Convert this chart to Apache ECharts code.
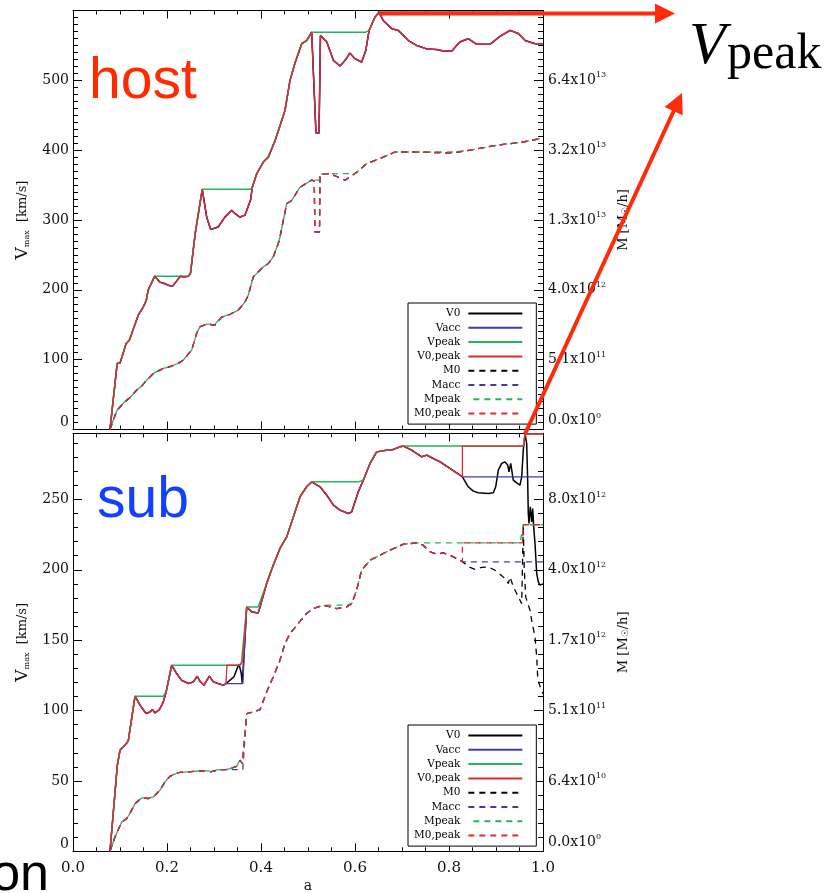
<!DOCTYPE html>
<html>
<head>
<meta charset="utf-8">
<title>Vmax and mass histories: host and subhalo</title>
<script src="https://cdn.jsdelivr.net/npm/echarts@6/dist/echarts.min.js"></script>
<style>
  html, body { margin: 0; padding: 0; background: #fff; }
  #chart { width: 828px; height: 893px; }
</style>
</head>
<body>
<div id="chart"></div>
<script>
// ---------------------------------------------------------------------------
// Legend entries and right-hand mass tick labels (mantissa ^ exponent)
// ---------------------------------------------------------------------------
const seriesNames = ['V0', 'Vacc', 'Vpeak', 'V0,peak', 'M0', 'Macc', 'Mpeak', 'M0,peak'];
const hostMassLabels = ['0.0x10^0', '5.1x10^11', '4.0x10^12', '1.3x10^13', '3.2x10^13', '6.4x10^13'];
const subMassLabels  = ['0.0x10^0', '6.4x10^10', '5.1x10^11', '1.7x10^12', '4.0x10^12', '8.0x10^12'];

// ---------------------------------------------------------------------------
// Host halo: Vmax [km/s] and mass [10^12 Msun/h] against scale factor a
// ---------------------------------------------------------------------------
const hostV0 = [
  [0.0787, 0], [0.094, 94.7], [0.1, 95], [0.113, 123], [0.12, 128], [0.139, 164], [0.15, 176],
  [0.156, 185], [0.16, 200], [0.174, 219.6], [0.185, 211], [0.1945, 209], [0.2078, 205.3],
  [0.213, 206], [0.228, 219.3], [0.236, 218.6], [0.2455, 219.4], [0.25, 224], [0.26, 280.7],
  [0.269, 318.7], [0.275, 344], [0.2845, 304], [0.293, 286.4], [0.309, 290], [0.323, 304],
  [0.3376, 314], [0.345, 309], [0.355, 304], [0.366, 307], [0.378, 329], [0.3815, 347],
  [0.391, 366.5], [0.405, 383], [0.4156, 390], [0.43, 414], [0.4404, 435], [0.451, 457],
  [0.4617, 500], [0.472, 524], [0.4866, 552.5], [0.497, 557], [0.5078, 569], [0.5085, 568],
  [0.517, 424.6], [0.5235, 424.6], [0.5265, 564], [0.54, 555], [0.554, 528.6], [0.568, 520.5],
  [0.579, 528.6], [0.589, 539], [0.6, 531], [0.614, 526], [0.623, 543], [0.63, 571.5],
  [0.6426, 590.6], [0.651, 597.7], [0.66, 585.8], [0.678, 574], [0.692, 571.5], [0.7135, 557],
  [0.731, 550], [0.7525, 545], [0.774, 544], [0.788, 542], [0.806, 542], [0.823, 555],
  [0.841, 559.6], [0.859, 551.5], [0.887, 551.5], [0.9085, 563], [0.93, 571.5], [0.9475, 567],
  [0.962, 557], [0.983, 552.5], [1.0, 552.5]
];
const hostM0 = [
  [0.0787, 0], [0.0858, 0.00129], [0.094, 0.0112], [0.1106, 0.0328], [0.121, 0.0482],
  [0.1355, 0.0923], [0.146, 0.122], [0.157, 0.183], [0.171, 0.266], [0.192, 0.343],
  [0.2053, 0.371], [0.224, 0.435], [0.2347, 0.503], [0.2525, 0.753], [0.263, 1.334],
  [0.27, 1.626], [0.2845, 1.763], [0.302, 1.711], [0.3163, 2.137], [0.334, 2.30],
  [0.3517, 2.56], [0.366, 3.127], [0.373, 3.647], [0.3836, 5.348], [0.391, 5.716],
  [0.405, 6.476], [0.4156, 6.885], [0.426, 7.715], [0.4368, 9.68], [0.4404, 10.74],
  [0.4547, 17.35], [0.4653, 18.07], [0.483, 21.39], [0.5078, 23.30], [0.5134, 23.10],
  [0.5145, 11.60], [0.5245, 11.60], [0.5255, 25.0], [0.547, 25.21], [0.5787, 23.30],
  [0.6, 25.21], [0.625, 28.27], [0.653, 29.91], [0.685, 32.13], [0.724, 32.13],
  [0.809, 31.79], [0.845, 32.77], [0.9015, 34.52], [0.958, 35.73], [1.0, 37.23]
];

// ---------------------------------------------------------------------------
// Subhalo: Vmax [km/s] and mass [10^12 Msun/h]
// ---------------------------------------------------------------------------
const subV0 = [
  [0.0787, 0], [0.0943, 61], [0.1, 71.8], [0.1106, 75.4], [0.1176, 78.4], [0.121, 78.9],
  [0.132, 110.2], [0.1426, 103.8], [0.1555, 97.9], [0.1638, 99], [0.1688, 100.7], [0.1745, 98.3],
  [0.1837, 100.7], [0.192, 106], [0.198, 113], [0.21, 132.2], [0.2206, 126.3], [0.231, 121.5],
  [0.2455, 119.2], [0.256, 120.4], [0.2645, 124.4], [0.27, 120.8], [0.2787, 118], [0.29, 124.4],
  [0.2986, 120.4], [0.309, 119.2], [0.32, 118], [0.3255, 119.2], [0.3355, 122], [0.3425, 124],
  [0.35, 130.5], [0.3532, 133], [0.358, 126.5], [0.3602, 119], [0.3696, 173.6], [0.3802, 170.1],
  [0.394, 169.4], [0.398, 173.6], [0.412, 190.3], [0.426, 203.3], [0.4404, 215.2],
  [0.4547, 223.4], [0.4688, 237.6], [0.483, 251.9], [0.497, 259], [0.508, 262.5],
  [0.5255, 259], [0.54, 253], [0.554, 246], [0.568, 242.4], [0.586, 240], [0.593, 241.2],
  [0.607, 255.4], [0.6177, 263.7], [0.632, 275.6], [0.646, 283.8], [0.6675, 285],
  [0.6815, 285.5], [0.6957, 287.4], [0.703, 287.9], [0.7206, 285], [0.742, 280.3],
  [0.7525, 281.5], [0.7666, 279.1], [0.781, 276.7], [0.802, 272], [0.816, 268.9],
  [0.8285, 266.1], [0.841, 259], [0.8517, 255.9], [0.8623, 254.7], [0.8836, 254.3],
  [0.8943, 254.7], [0.8994, 259], [0.9049, 270.8], [0.9121, 275.6], [0.9191, 276.7],
  [0.9249, 274.4], [0.9277, 269.6], [0.9313, 275.6], [0.9368, 263.7], [0.944, 261.8],
  [0.9511, 260.2], [0.9547, 266.1], [0.958, 285], [0.9617, 296.5], [0.9653, 289.8],
  [0.9674, 263.7], [0.9687, 240], [0.9702, 233], [0.973, 244.7], [0.9759, 234],
  [0.9781, 243.6], [0.9802, 230.5], [0.983, 218.7], [0.9866, 197.4], [0.99, 191.4],
  [0.9936, 189.1], [1.0, 190]
];
const subM0 = [
  [0.0787, 0], [0.0894, 0.00054], [0.1036, 0.00461], [0.114, 0.00639], [0.121, 0.00986],
  [0.132, 0.01995], [0.146, 0.02787], [0.16, 0.0270], [0.171, 0.02945], [0.185, 0.04186],
  [0.1957, 0.06135], [0.2064, 0.07753], [0.224, 0.08943], [0.242, 0.09186], [0.27, 0.09532],
  [0.2915, 0.09186], [0.3128, 0.1004], [0.3255, 0.1004], [0.334, 0.1041], [0.348, 0.1128],
  [0.3553, 0.1387], [0.3585, 0.1472], [0.3605, 0.1238], [0.3695, 0.4804], [0.3836, 0.4968],
  [0.398, 0.5228], [0.412, 0.7427], [0.426, 0.9738], [0.4404, 1.282], [0.451, 1.646],
  [0.4617, 1.896], [0.4794, 2.173], [0.497, 2.471], [0.511, 2.628], [0.5326, 2.739],
  [0.561, 2.628], [0.582, 2.679], [0.593, 2.791], [0.6035, 3.268], [0.614, 4.078],
  [0.632, 4.528], [0.653, 4.769], [0.6745, 5.018], [0.703, 5.319], [0.731, 5.385],
  [0.745, 5.268], [0.76, 4.934], [0.774, 4.817], [0.788, 4.878], [0.802, 4.769],
  [0.816, 4.607], [0.8285, 4.456], [0.8447, 4.201], [0.8553, 4.114], [0.8696, 4.201],
  [0.8836, 4.226], [0.8979, 4.078], [0.9085, 3.909], [0.9191, 3.727], [0.9262, 3.528],
  [0.9298, 3.796], [0.9368, 3.397], [0.944, 3.148], [0.9511, 2.907], [0.9547, 2.791],
  [0.958, 6.394], [0.9602, 4.096], [0.9632, 3.026], [0.9723, 2.574], [0.9759, 2.267],
  [0.9794, 2.217], [0.983, 1.809], [0.9866, 1.349], [0.9887, 0.9738], [0.9915, 0.8672],
  [1.0, 0.7193]
];

// ---------------------------------------------------------------------------
// Helpers
// ---------------------------------------------------------------------------
const upTo = (arr, a) => arr.filter(p => p[0] <= a);
const between = (arr, a0, a1) => arr.filter(p => p[0] >= a0 && p[0] <= a1);
// peak-so-far track (Vpeak / Mpeak)
const runningMax = arr => { let m = -Infinity; return arr.map(([a, v]) => [a, (m = Math.max(m, v))]); };
// mass axis is the Vmax axis through M = 5.12e5 Vmax^3 (Msun/h, km/s)
const massToAxis = arr => arr.map(([a, m]) => [a, 100 * Math.cbrt(m / 0.512)]);

// Subhalo tracks around the two accretion episodes (a = 0.3255-0.361 and a > 0.8285)
const subVacc = [...upTo(subV0, 0.3255), [0.3612, 119.2], ...between(subV0, 0.3696, 0.8285), [1.0, 266.1]];
const subV0peak = [...upTo(subV0, 0.3255), [0.3275, 132.2], [0.3553, 132.2], [0.3612, 135.5],
  ...between(subV0, 0.3696, 0.8285), [0.8285, 287.9], [0.9595, 287.9], [0.9617, 296.5], [1.0, 296.5]];
const subMacc = [...upTo(subM0, 0.3255), [0.3612, 0.1004], ...between(subM0, 0.3695, 0.8285), [1.0, 4.456]];
const subM0peak = [...upTo(subM0, 0.8285), [0.8285, 5.385], [0.9565, 5.385], [0.958, 6.394], [1.0, 6.394]];

const hostTracks = {
  V0: hostV0, Vacc: hostV0, Vpeak: runningMax(hostV0), V0peak: hostV0,
  M0: hostM0, Macc: hostM0, Mpeak: runningMax(hostM0), M0peak: hostM0
};
const subTracks = {
  V0: subV0, Vacc: subVacc, Vpeak: runningMax(subV0), V0peak: subV0peak,
  M0: subM0, Macc: subMacc, Mpeak: runningMax(subM0), M0peak: subM0peak
};

// ---------------------------------------------------------------------------
// Styling
// ---------------------------------------------------------------------------
const SERIF = '"DejaVu Serif", serif';
const BLACK = '#000000', BLUE = '#3c3cae', GREEN = '#26b35e', RED = '#e8262f';
const DASH = [6, 5];

const panels = [
  { grid: { left: 73, top: 10.5, width: 470, height: 419 }, ymax: 600, step: 100, minor: 10,
    massLabels: hostMassLabels, tracks: hostTracks, xLabels: false },
  { grid: { left: 73, top: 433.3, width: 470, height: 418 }, ymax: 297, step: 50, minor: 5,
    massLabels: subMassLabels, tracks: subTracks, xLabels: true }
];

const axisLine = { show: true, onZero: false, lineStyle: { color: '#000', width: 1 } };
const majorTick = { show: true, inside: true, length: 8, lineStyle: { color: '#000', width: 1 } };

const grids = [], xAxes = [], yAxes = [], series = [], legends = [];

panels.forEach((p, g) => {
  grids.push(Object.assign({ containLabel: false, outerBoundsMode: 'none' }, p.grid));

  // bottom and top a-axes
  xAxes.push({
    gridIndex: g, type: 'value', position: 'bottom', min: 0, max: 1, interval: 0.2,
    name: p.xLabels ? 'a' : '', nameLocation: 'middle', nameGap: 28,
    nameTextStyle: { fontFamily: SERIF, fontSize: 14, color: '#111' },
    axisLine, axisTick: majorTick,
    minorTick: { show: true, splitNumber: 4, length: 4, lineStyle: { color: '#000' } },
    axisLabel: { show: p.xLabels, margin: 9, fontFamily: SERIF, fontSize: 15, color: '#111',
                 formatter: v => v.toFixed(1) },
    splitLine: { show: false }
  });
  xAxes.push({
    gridIndex: g, type: 'value', position: 'top', min: 0, max: 1, interval: 0.2,
    axisLine, axisTick: majorTick,
    minorTick: { show: true, splitNumber: 4, length: 4, lineStyle: { color: '#000' } },
    axisLabel: { show: false }, splitLine: { show: false }
  });

  // left Vmax axis
  yAxes.push({
    gridIndex: g, type: 'value', position: 'left', min: 0, max: p.ymax, interval: p.step,
    name: '{v|V}{s|max}{t|  [km/s]}', nameLocation: 'middle', nameGap: 42, nameRotate: 90,
    nameTextStyle: {
      color: '#111',
      rich: {
        v: { fontFamily: SERIF, fontSize: 17, color: '#111' },
        s: { fontFamily: SERIF, fontSize: 8, color: '#111', verticalAlign: 'bottom', padding: [6, 0, 0, 0] },
        t: { fontFamily: SERIF, fontSize: 13, color: '#111' }
      }
    },
    axisLine, axisTick: Object.assign({}, majorTick, { length: 9 }),
    minorTick: { show: true, splitNumber: p.minor, length: 5, lineStyle: { color: '#000' } },
    axisLabel: { margin: 4, fontFamily: SERIF, fontSize: 14, color: '#111',
                 showMaxLabel: false, verticalAlignMinLabel: 'bottom' },
    splitLine: { show: false }
  });

  // right mass axis (same scale, labelled in mass)
  yAxes.push({
    gridIndex: g, type: 'value', position: 'right', min: 0, max: p.ymax, interval: p.step,
    name: '{t|M [M}{s|☉}{t|/h]}', nameLocation: 'middle', nameGap: 68, nameRotate: 90,
    nameTextStyle: {
      color: '#111',
      rich: {
        t: { fontFamily: SERIF, fontSize: 13, color: '#111' },
        s: { fontFamily: SERIF, fontSize: 9, color: '#111', verticalAlign: 'bottom', padding: [5, 0, 0, 0] }
      }
    },
    axisLine, axisTick: Object.assign({}, majorTick, { length: 9 }),
    minorTick: { show: true, splitNumber: p.minor, length: 5, lineStyle: { color: '#000' } },
    axisLabel: {
      margin: 5, showMaxLabel: false, verticalAlignMinLabel: 'bottom',
      formatter: v => {
        const s = p.massLabels[Math.round(v / p.step)];
        if (!s || Math.abs(v / p.step - Math.round(v / p.step)) > 1e-6) return '';
        const [m, e] = s.split('^');
        return '{m|' + m + '}{e|' + e + '}';
      },
      rich: {
        m: { fontFamily: SERIF, fontSize: 14, color: '#111', lineHeight: 18 },
        e: { fontFamily: SERIF, fontSize: 8, color: '#111', verticalAlign: 'top' }
      }
    },
    splitLine: { show: false }
  });

  const t = p.tracks;
  const solid = (name, data, color, width) => ({
    name, type: 'line', xAxisIndex: 2 * g, yAxisIndex: 2 * g, data, symbol: 'none',
    lineStyle: { color, width, type: 'solid' }, itemStyle: { color, opacity: 0 },
    emphasis: { disabled: true }, silent: true, animation: false
  });
  const dashed = (name, data, color, offset) => ({
    name, type: 'line', xAxisIndex: 2 * g, yAxisIndex: 2 * g, data: massToAxis(data), symbol: 'none',
    lineStyle: { color, width: 1.3, type: DASH, dashOffset: offset }, itemStyle: { color, opacity: 0 },
    emphasis: { disabled: true }, silent: true, animation: false
  });
  series.push(
    solid('V0', t.V0, BLACK, 1.5),
    solid('Vacc', t.Vacc, BLUE, 1.3),
    solid('Vpeak', t.Vpeak, GREEN, 1.5),
    solid('V0,peak', t.V0peak, RED, 1.3),
    dashed('M0', t.M0, BLACK, 0),
    dashed('Macc', t.Macc, BLUE, 0),
    dashed('Mpeak', t.Mpeak, GREEN, 6),
    dashed('M0,peak', t.M0peak, RED, 0)
  );

  legends.push({
    data: seriesNames, orient: 'vertical', align: 'right', selectedMode: false,
    left: 408, top: g === 0 ? 303 : 725,
    itemWidth: 54, itemHeight: 10, itemGap: 3.3,
    padding: [5, 13, 5, 6],
    itemStyle: { opacity: 0 },
    backgroundColor: '#ffffff', borderColor: '#000', borderWidth: 1, borderRadius: 0,
    textStyle: { fontFamily: SERIF, fontSize: 10.5, color: '#000', padding: [0, 3, 0, 0] }
  });
});

const chart = echarts.init(document.getElementById('chart'), null, { renderer: 'canvas' });
chart.setOption({
  backgroundColor: '#ffffff',
  animation: false,
  grid: grids, xAxis: xAxes, yAxis: yAxes, legend: legends, series
});

// ---------------------------------------------------------------------------
// Annotations: panel labels, Vpeak label and arrows from the peak points
// ---------------------------------------------------------------------------
const ARROW = '#ff2a0a';
function arrow(from, to, width, headLen, headHalf) {
  const dx = to[0] - from[0], dy = to[1] - from[1];
  const L = Math.hypot(dx, dy), ux = dx / L, uy = dy / L;
  const bx = to[0] - ux * headLen, by = to[1] - uy * headLen;
  return [
    { type: 'line', z: 100, shape: { x1: from[0], y1: from[1], x2: bx + ux, y2: by + uy },
      style: { stroke: ARROW, lineWidth: width } },
    { type: 'polygon', z: 100,
      shape: { points: [to, [bx - uy * headHalf, by + ux * headHalf], [bx + uy * headHalf, by - ux * headHalf]] },
      style: { fill: ARROW } }
  ];
}
const peakOf = arr => arr.reduce((b, p) => (p[1] > b[1] ? p : b));
const hostPeakPx = chart.convertToPixel({ xAxisIndex: 0, yAxisIndex: 0 }, peakOf(hostV0));
const subPeakPx = chart.convertToPixel({ xAxisIndex: 2, yAxisIndex: 2 }, peakOf(subV0));

chart.setOption({
  graphic: [
    { type: 'text', z: 90, style: { x: 89, y: 82, text: 'host', fill: '#ff2a00',
      font: '57px "Liberation Sans", Arial, sans-serif', align: 'left', verticalAlign: 'middle' } },
    { type: 'text', z: 90, style: { x: 97, y: 501, text: 'sub', fill: '#1240ff',
      font: '57px "Liberation Sans", Arial, sans-serif', align: 'left', verticalAlign: 'middle' } },
    { type: 'text', z: 90, style: { x: 689, y: 47, text: 'V', fill: '#000',
      font: 'italic 60px "Liberation Serif", serif', align: 'left', verticalAlign: 'middle' } },
    { type: 'text', z: 90, style: { x: 727, y: 55, text: 'peak', fill: '#000',
      font: '50px "Liberation Serif", serif', align: 'left', verticalAlign: 'middle' } },
    { type: 'text', z: 90, style: { x: 49, y: 876, text: 'on', fill: '#000',
      font: '52px "Liberation Sans", Arial, sans-serif', align: 'right', verticalAlign: 'middle' } },
    ...arrow([hostPeakPx[0], hostPeakPx[1] + 1.5], [675, hostPeakPx[1] + 1.5], 4, 20, 10),
    ...arrow(subPeakPx, [682, 93], 4, 20, 10)
  ]
});
</script>
</body>
</html>
